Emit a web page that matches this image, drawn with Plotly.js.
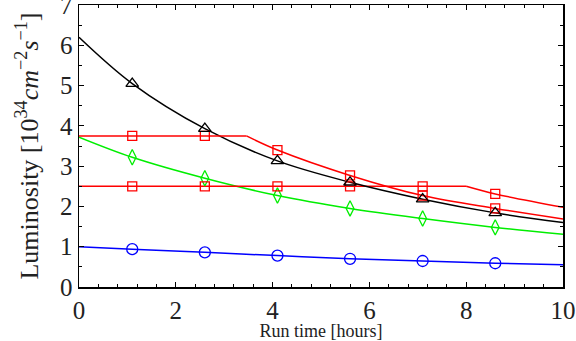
<!DOCTYPE html>
<html><head><meta charset="utf-8">
<script src="https://cdn.plot.ly/plotly-3.0.1.min.js"></script>
<style>html,body{margin:0;padding:0;background:#fff}#c{width:576px;height:341px}</style>
</head><body><div id="c"></div>
<script>
// marker times (hours)
const markerT = [1.1, 2.6, 4.1, 5.6, 7.1, 8.6];
// curve sample times
const curveT = [0, 1.1, 2.6, 4.1, 5.6, 7.1, 8.6, 10];

// black (triangles)
const blackCurve = [6.2, 5.05, 3.93, 3.13, 2.6, 2.18, 1.84, 1.6];
const blackMarkers = [5.05, 3.93, 3.13, 2.6, 2.18, 1.84];

// green (diamonds)
const greenCurve = [3.72, 3.22, 2.7, 2.27, 1.95, 1.7, 1.48, 1.31];
const greenMarkers = [3.22, 2.7, 2.27, 1.95, 1.7, 1.48];

// blue (circles)
const blueCurve = [1.0, 0.94, 0.86, 0.78, 0.7, 0.645, 0.59, 0.55];
const blueMarkers = [0.94, 0.86, 0.78, 0.7, 0.645, 0.59];

// red upper: flat then decay
const redUpFlatT = [0, 3.46];
const redUpFlat = [3.75, 3.75];
const redUpDecayT = [3.46, 4.1, 5.6, 7.1, 8.6, 10];
const redUpDecay = [3.75, 3.4, 2.77, 2.27, 1.95, 1.69];
const redUpMarkers = [3.75, 3.75, 3.4, 2.77, 2.27, 1.95];

// red lower: flat then decay
const redLoFlatT = [0, 8.0];
const redLoFlat = [2.5, 2.5];
const redLoDecayT = [8.0, 8.6, 10];
const redLoDecay = [2.5, 2.31, 1.98];
const redLoMarkers = [2.5, 2.5, 2.5, 2.5, 2.5, 2.31];

const RED = '#ff0000', GREEN = '#00ee00', BLUE = '#0000ff', BLACK = '#000000';
const LW = 1.5;

function line(x, y, color, shape) {
  return {x: x, y: y, mode: 'lines', line: {color: color, width: LW, shape: shape || 'spline'}, hoverinfo: 'skip', showlegend: false};
}
function marks(y, color, symbol, size) {
  return {x: markerT, y: y, mode: 'markers', marker: {symbol: symbol, size: size, color: color, line: {color: color, width: 1.3}}, showlegend: false};
}

const data = [
  line(curveT, blueCurve, BLUE),
  line(curveT, greenCurve, GREEN),
  line(redLoFlatT, redLoFlat, RED, 'linear'),
  line(redLoDecayT, redLoDecay, RED),
  line(curveT, blackCurve, BLACK),
  line(redUpFlatT, redUpFlat, RED, 'linear'),
  line(redUpDecayT, redUpDecay, RED),
  marks(blueMarkers, BLUE, 'circle-open', 11),
  marks(greenMarkers, GREEN, 'diamond-tall-open', 11),
  marks(redLoMarkers, RED, 'square-open', 9),
  marks(redUpMarkers, RED, 'square-open', 9),
  marks(blackMarkers, BLACK, 'triangle-up-open', 11)
];

const FONT = 'Liberation Serif';
const axisCommon = {
  showline: true, linecolor: '#000', linewidth: 1.5, mirror: 'allticks',
  ticks: 'inside', ticklen: 5, tickwidth: 1, tickcolor: '#000',
  showgrid: false, zeroline: false, ticklabeloverflow: 'allow',
  tickfont: {family: FONT, size: 25, color: '#222'}
};

const layout = {
  width: 576, height: 341,
  margin: {l: 79, r: 13, t: 5, b: 54},
  paper_bgcolor: '#fff', plot_bgcolor: '#fff',
  font: {family: FONT},
  xaxis: Object.assign({}, axisCommon, {
    range: [0, 10], dtick: 2, tick0: 0,
    minor: {dtick: 0.4, ticks: 'inside', ticklen: 3, tickcolor: '#000', showgrid: false},
    title: {text: 'Run time [hours]', font: {family: FONT, size: 18, color: '#222'}, standoff: 0}
  }),
  yaxis: Object.assign({}, axisCommon, {
    range: [0, 7], dtick: 1, tick0: 0,
    minor: {dtick: 0.5, ticks: 'inside', ticklen: 3, tickcolor: '#000', showgrid: false},
    title: {text: 'Luminosity [10<sup>34</sup><i>cm</i><sup>−2</sup><i>s</i><sup>−1</sup>]', font: {family: FONT, size: 26, color: '#222'}, standoff: 14}
  })
};

Plotly.newPlot('c', data, layout, {staticPlot: true, displayModeBar: false});
</script>
</body></html>
